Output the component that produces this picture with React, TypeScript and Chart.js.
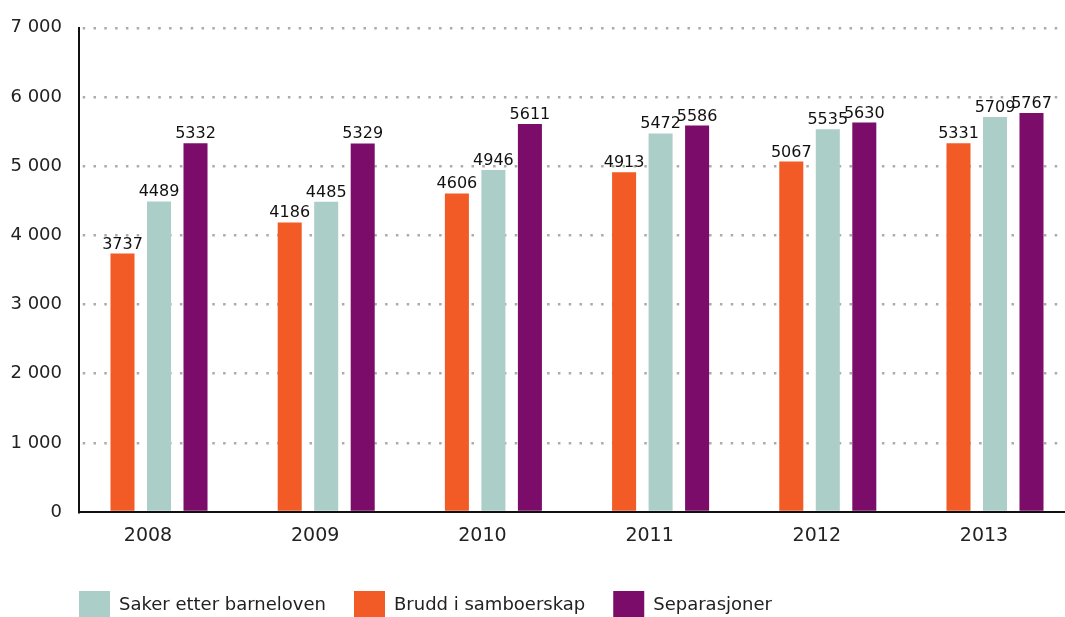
import { useEffect, useRef } from 'react';
import { Chart, registerables } from 'chart.js';

Chart.register(...registerables);

const years = ['2008', '2009', '2010', '2011', '2012', '2013'];
const brudd = [3737, 4186, 4606, 4913, 5067, 5331];
const saker = [4489, 4485, 4946, 5472, 5535, 5709];
const separasjoner = [5332, 5329, 5611, 5586, 5630, 5767];
const yTickValues = [0, 1000, 2000, 3000, 4000, 5000, 6000, 7000];
const seriesNames = ['Brudd i samboerskap', 'Saker etter barneloven', 'Separasjoner'];
const seriesColors = ['#F25A26', '#ACCEC8', '#7B0C6A'];
const legendOrder = [1, 0, 2];

const FONT = 'DejaVu Sans';
const TEXT = '#222222';

const fmt = (v: number) => String(v).replace(/\B(?=(\d{3})+(?!\d))/g, ' ');

const valueLabels = {
  id: 'valueLabels',
  afterDatasetsDraw(chart: any) {
    const ctx = chart.ctx;
    ctx.save();
    ctx.font = `16px "${FONT}"`;
    ctx.fillStyle = '#111111';
    ctx.textAlign = 'center';
    ctx.textBaseline = 'alphabetic';
    chart.data.datasets.forEach((ds: any, i: number) => {
      const meta = chart.getDatasetMeta(i);
      meta.data.forEach((el: any, j: number) => {
        const v = ds.data[j].y;
        ctx.fillText(String(v), el.x, el.y - 5);
      });
    });
    ctx.restore();
  },
};

const legendShift = {
  id: 'legendShift',
  afterLayout(chart: any) {
    const lg = chart.legend;
    if (!lg) return;
    lg.left += 51;
    lg.right += 51;
    lg.top += 12;
    lg.bottom += 12;
  },
};

export default function App() {
  const ref = useRef<HTMLCanvasElement | null>(null);

  useEffect(() => {
    if (!ref.current) return;
    const series = [brudd, saker, separasjoner];
    const chart = new Chart(ref.current, {
      type: 'bar',
      data: {
        datasets: series.map((vals, i) => ({
          label: seriesNames[i],
          data: vals.map((v, j) => ({ x: j, y: v })),
          backgroundColor: seriesColors[i],
          borderColor: seriesColors[i],
          borderWidth: 0,
          categoryPercentage: 0.655,
          barPercentage: 0.658,
        })),
      },
      options: {
        animation: false,
        responsive: true,
        maintainAspectRatio: false,
        devicePixelRatio: 1,
        layout: { padding: { top: 25, right: 1, left: 0, bottom: 0 } },
        font: { family: FONT },
        plugins: {
          legend: {
            position: 'bottom',
            align: 'start',
            labels: {
              boxWidth: 31,
              boxHeight: 28,
              padding: 28,
              color: TEXT,
              font: { family: FONT, size: 18 },
              sort: (a: any, b: any) => legendOrder.indexOf(a.datasetIndex) - legendOrder.indexOf(b.datasetIndex),
            },
          },
          tooltip: { enabled: false },
        },
        scales: {
          x: {
            type: 'linear',
            offset: false,
            min: -0.4785,
            max: 5.4127,
            afterBuildTicks: (axis: any) => {
              axis.ticks = years.map((_, i) => ({ value: i }));
            },
            afterFit: (axis: any) => {
              axis.height = 39;
            },
            ticks: {
              callback: (v: any) => years[v] ?? '',
              font: { family: FONT, size: 19 },
              color: TEXT,
              padding: 13,
              labelOffset: -11,
              maxRotation: 0,
              autoSkip: false,
            },
            grid: { display: false, drawTicks: false, offset: false },
            border: { display: true, color: '#111111', width: 2 },
          },
          y: {
            type: 'linear',
            min: 0,
            max: 7000,
            afterBuildTicks: (axis: any) => {
              axis.ticks = yTickValues.map((v) => ({ value: v }));
            },
            afterFit: (axis: any) => {
              axis.width = 79;
            },
            ticks: {
              callback: (v: any) => fmt(Number(v)),
              font: { family: FONT, size: 18 },
              color: TEXT,
              padding: 17,
            },
            grid: {
              drawTicks: false,
              lineWidth: 2.5,
              color: (c: any) => (c.tick && c.tick.value === 0 ? 'rgba(0,0,0,0)' : '#ababab'),
            },
            border: { display: true, color: '#111111', width: 2, dash: [2.5, 8.3], dashOffset: 8.1 },
          },
        },
      } as any,
      plugins: [valueLabels, legendShift],
    });
    return () => chart.destroy();
  }, []);

  return (
    <div style={{ position: 'absolute', left: 0, top: 0, width: 1065, height: 617 }}>
      <canvas ref={ref} />
    </div>
  );
}
